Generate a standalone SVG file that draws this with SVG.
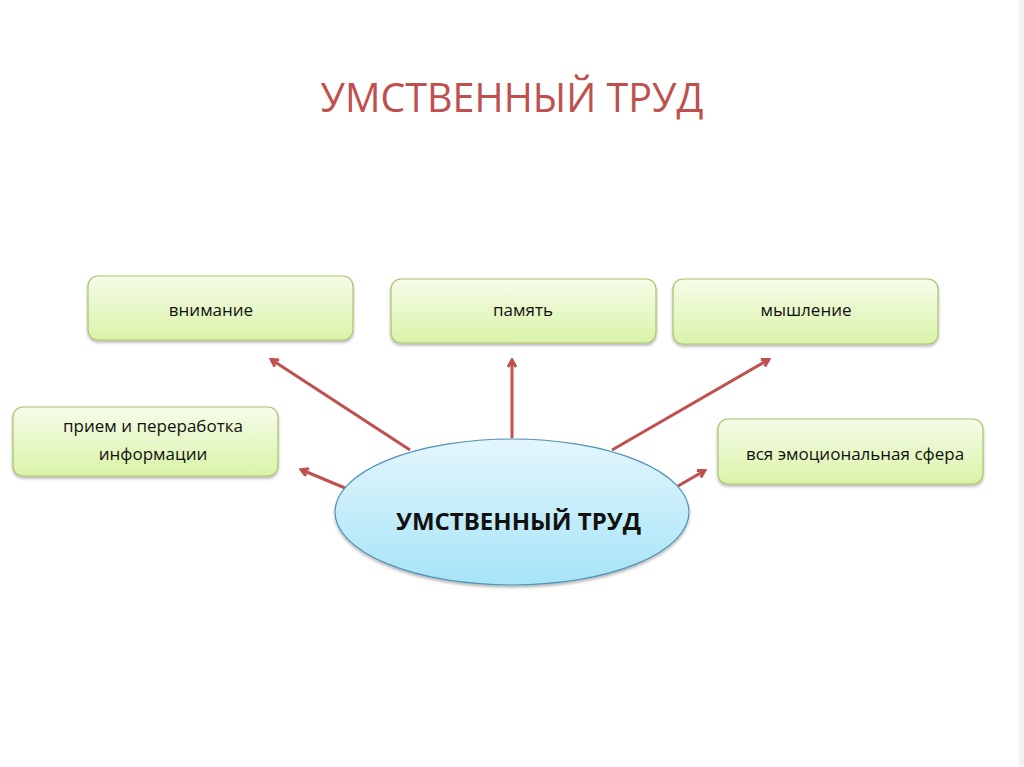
<svg xmlns="http://www.w3.org/2000/svg" width="1024" height="767" viewBox="0 0 1024 767">
<defs>
<linearGradient id="g" x1="0" y1="0" x2="0" y2="1">
<stop offset="0" stop-color="#f6fce9"/>
<stop offset="1" stop-color="#d9f3a8"/>
</linearGradient>
<linearGradient id="b" x1="0" y1="0" x2="0" y2="1">
<stop offset="0" stop-color="#e3f6fc"/>
<stop offset="1" stop-color="#a6e4f7"/>
</linearGradient>
<filter id="sh" x="-10%" y="-10%" width="120%" height="130%">
<feDropShadow dx="0" dy="2" stdDeviation="1.5" flood-color="#000" flood-opacity="0.3"/>
</filter>
<marker id="ah" markerWidth="10" markerHeight="10" refX="7" refY="5" orient="auto" markerUnits="userSpaceOnUse">
<path d="M1,1 L8,5 L1,9" fill="none" stroke="#c0504d" stroke-width="3"/>
</marker>
<style>
.box{fill:url(#g);stroke:#a9c46a;stroke-width:1.2;filter:url(#sh)}
.t{font-family:"Open Sans","Liberation Sans",sans-serif;font-size:17px;fill:#111;text-anchor:middle}
.c{stroke:#c0504d;stroke-width:3;fill:none;marker-end:url(#ah)}
</style>
</defs>
<rect width="1024" height="767" fill="#ffffff"/>
<rect x="1019" y="0" width="5" height="767" fill="#f2f2f2"/>
<text x="512" y="112" font-family="Open Sans, Liberation Sans, sans-serif" font-size="39.5" fill="#c0504d" text-anchor="middle">УМСТВЕННЫЙ ТРУД</text>
<g id="connectors">
<line class="c" x1="410" y1="450" x2="272" y2="360"/>
<line class="c" x1="512" y1="438" x2="512" y2="361"/>
<line class="c" x1="612" y1="450" x2="768" y2="360"/>
<line class="c" x1="345" y1="488" x2="302" y2="470"/>
<line class="c" x1="678" y1="486" x2="704" y2="471"/>
</g>
<g id="n-vnimanie"><rect class="box" x="88" y="276" width="265" height="64" rx="10"/><text class="t" x="211" y="316">внимание</text></g>
<g id="n-pamyat"><rect class="box" x="391" y="279" width="265" height="64" rx="10"/><text class="t" x="523" y="316">память</text></g>
<g id="n-myshlenie"><rect class="box" x="673" y="279" width="265" height="65" rx="10"/><text class="t" x="806" y="316">мышление</text></g>
<g id="n-priem"><rect class="box" x="13" y="407" width="265" height="69" rx="10"/><text class="t" x="153" y="432">прием и переработка</text><text class="t" x="153" y="460">информации</text></g>
<g id="n-emo"><rect class="box" x="718" y="419" width="265" height="65" rx="10"/><text class="t" x="855" y="460">вся эмоциональная сфера</text></g>
<g id="n-center"><ellipse cx="512" cy="512" rx="177" ry="73" fill="url(#b)" stroke="#4f93b5" stroke-width="1.2" filter="url(#sh)"/><text x="518.5" y="530" font-family="Open Sans, Liberation Sans, sans-serif" font-size="24" font-weight="bold" fill="#111" text-anchor="middle">УМСТВЕННЫЙ ТРУД</text></g>
</svg>
